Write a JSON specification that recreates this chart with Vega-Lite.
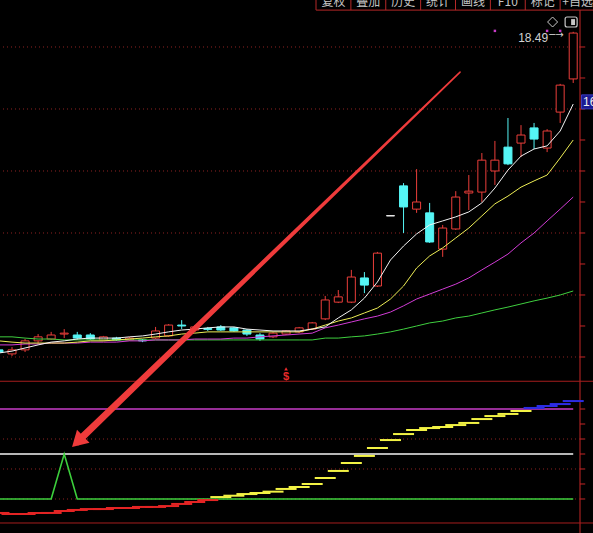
{
  "$schema": "https://vega.github.io/schema/vega-lite/v6.json",
  "width": 580,
  "height": 533,
  "autosize": {"type": "none"},
  "padding": {"left": 0, "top": 0, "right": 13, "bottom": 0},
  "background": "#000000",
  "config": {"view": {"stroke": null}, "text": {"font": "Liberation Sans"}, "scale": {"continuousPadding": 0}},
  "datasets": {
    "k": [
      {"i": -1, "o": 8.23, "h": 8.26, "l": 8.13, "c": 8.16, "m5": 8.13, "m10": 8.52, "m20": 8.39, "m60": 8.65},
      {"i": 0, "o": 8.10, "h": 8.32, "l": 8.03, "c": 8.23, "m5": 8.19, "m10": 8.48, "m20": 8.39, "m60": 8.65},
      {"i": 1, "o": 8.23, "h": 8.58, "l": 8.16, "c": 8.52, "m5": 8.29, "m10": 8.45, "m20": 8.42, "m60": 8.61},
      {"i": 2, "o": 8.52, "h": 8.74, "l": 8.42, "c": 8.65, "m5": 8.39, "m10": 8.45, "m20": 8.42, "m60": 8.58},
      {"i": 3, "o": 8.58, "h": 8.81, "l": 8.55, "c": 8.71, "m5": 8.48, "m10": 8.45, "m20": 8.45, "m60": 8.58},
      {"i": 4, "o": 8.74, "h": 8.90, "l": 8.61, "c": 8.77, "m5": 8.52, "m10": 8.45, "m20": 8.45, "m60": 8.55},
      {"i": 5, "o": 8.71, "h": 8.81, "l": 8.55, "c": 8.61, "m5": 8.58, "m10": 8.48, "m20": 8.45, "m60": 8.55},
      {"i": 6, "o": 8.71, "h": 8.77, "l": 8.55, "c": 8.58, "m5": 8.61, "m10": 8.52, "m20": 8.48, "m60": 8.55},
      {"i": 7, "o": 8.55, "h": 8.68, "l": 8.52, "c": 8.65, "m5": 8.61, "m10": 8.52, "m20": 8.48, "m60": 8.55},
      {"i": 8, "o": 8.61, "h": 8.65, "l": 8.52, "c": 8.55, "m5": 8.61, "m10": 8.55, "m20": 8.48, "m60": 8.55},
      {"i": 9, "o": 8.55, "h": 8.65, "l": 8.52, "c": 8.61, "m5": 8.65, "m10": 8.58, "m20": 8.52, "m60": 8.55},
      {"i": 10, "o": 8.55, "h": 8.58, "l": 8.48, "c": 8.52, "m5": 8.68, "m10": 8.61, "m20": 8.52, "m60": 8.55},
      {"i": 11, "o": 8.61, "h": 8.97, "l": 8.58, "c": 8.84, "m5": 8.74, "m10": 8.65, "m20": 8.55, "m60": 8.55},
      {"i": 12, "o": 8.68, "h": 9.06, "l": 8.65, "c": 9.03, "m5": 8.81, "m10": 8.68, "m20": 8.55, "m60": 8.55},
      {"i": 13, "o": 9.03, "h": 9.19, "l": 8.90, "c": 9.00, "m5": 8.87, "m10": 8.74, "m20": 8.55, "m60": 8.55},
      {"i": 14, "o": 8.87, "h": 9.03, "l": 8.81, "c": 8.97, "m5": 8.90, "m10": 8.77, "m20": 8.58, "m60": 8.55},
      {"i": 15, "o": 8.92, "h": 8.97, "l": 8.84, "c": 8.89, "m5": 8.94, "m10": 8.81, "m20": 8.58, "m60": 8.55},
      {"i": 16, "o": 8.97, "h": 9.03, "l": 8.84, "c": 8.87, "m5": 8.97, "m10": 8.81, "m20": 8.58, "m60": 8.55},
      {"i": 17, "o": 8.94, "h": 8.97, "l": 8.81, "c": 8.84, "m5": 8.97, "m10": 8.81, "m20": 8.61, "m60": 8.55},
      {"i": 18, "o": 8.87, "h": 8.90, "l": 8.68, "c": 8.74, "m5": 8.90, "m10": 8.81, "m20": 8.61, "m60": 8.55},
      {"i": 19, "o": 8.71, "h": 8.77, "l": 8.52, "c": 8.58, "m5": 8.87, "m10": 8.81, "m20": 8.65, "m60": 8.55},
      {"i": 20, "o": 8.65, "h": 8.81, "l": 8.61, "c": 8.77, "m5": 8.84, "m10": 8.81, "m20": 8.68, "m60": 8.55},
      {"i": 21, "o": 8.74, "h": 8.87, "l": 8.71, "c": 8.84, "m5": 8.84, "m10": 8.81, "m20": 8.71, "m60": 8.55},
      {"i": 22, "o": 8.81, "h": 8.97, "l": 8.77, "c": 8.94, "m5": 8.84, "m10": 8.81, "m20": 8.74, "m60": 8.55},
      {"i": 23, "o": 8.90, "h": 9.13, "l": 8.87, "c": 9.10, "m5": 8.90, "m10": 8.90, "m20": 8.77, "m60": 8.55},
      {"i": 24, "o": 9.23, "h": 9.97, "l": 9.19, "c": 9.84, "m5": 8.97, "m10": 9.03, "m20": 8.94, "m60": 8.61},
      {"i": 25, "o": 9.77, "h": 10.16, "l": 9.74, "c": 9.94, "m5": 9.26, "m10": 9.16, "m20": 9.03, "m60": 8.61},
      {"i": 26, "o": 9.77, "h": 10.81, "l": 9.74, "c": 10.58, "m5": 9.52, "m10": 9.26, "m20": 9.13, "m60": 8.65},
      {"i": 27, "o": 10.55, "h": 10.74, "l": 10.06, "c": 10.32, "m5": 9.90, "m10": 9.42, "m20": 9.23, "m60": 8.68},
      {"i": 28, "o": 10.29, "h": 11.39, "l": 10.26, "c": 11.35, "m5": 10.42, "m10": 9.58, "m20": 9.32, "m60": 8.74},
      {"i": 29, "o": 12.55, "h": 12.56, "l": 12.55, "c": 12.56, "m5": 11.13, "m10": 9.87, "m20": 9.45, "m60": 8.81},
      {"i": 30, "o": 13.52, "h": 13.61, "l": 12.00, "c": 12.84, "m5": 11.58, "m10": 10.29, "m20": 9.65, "m60": 8.90},
      {"i": 31, "o": 12.77, "h": 14.06, "l": 12.65, "c": 13.00, "m5": 11.97, "m10": 10.87, "m20": 9.87, "m60": 9.00},
      {"i": 32, "o": 12.65, "h": 12.97, "l": 11.68, "c": 11.71, "m5": 12.26, "m10": 11.26, "m20": 10.03, "m60": 9.10},
      {"i": 33, "o": 11.48, "h": 12.26, "l": 11.23, "c": 12.16, "m5": 12.39, "m10": 11.52, "m20": 10.19, "m60": 9.16},
      {"i": 34, "o": 12.13, "h": 13.35, "l": 12.10, "c": 13.16, "m5": 12.52, "m10": 11.84, "m20": 10.35, "m60": 9.26},
      {"i": 35, "o": 13.29, "h": 13.87, "l": 12.74, "c": 13.35, "m5": 12.68, "m10": 12.16, "m20": 10.55, "m60": 9.32},
      {"i": 36, "o": 13.32, "h": 14.58, "l": 13.00, "c": 14.35, "m5": 12.97, "m10": 12.55, "m20": 10.81, "m60": 9.42},
      {"i": 37, "o": 14.00, "h": 14.97, "l": 13.55, "c": 14.35, "m5": 13.45, "m10": 12.94, "m20": 11.06, "m60": 9.52},
      {"i": 38, "o": 14.77, "h": 15.71, "l": 14.19, "c": 14.23, "m5": 14.03, "m10": 13.19, "m20": 11.32, "m60": 9.61},
      {"i": 39, "o": 14.90, "h": 15.48, "l": 14.45, "c": 15.16, "m5": 14.48, "m10": 13.48, "m20": 11.68, "m60": 9.71},
      {"i": 40, "o": 15.39, "h": 15.55, "l": 14.71, "c": 15.03, "m5": 14.71, "m10": 13.68, "m20": 12.00, "m60": 9.81},
      {"i": 41, "o": 14.74, "h": 15.35, "l": 14.61, "c": 15.29, "m5": 14.81, "m10": 13.87, "m20": 12.39, "m60": 9.90},
      {"i": 42, "o": 15.90, "h": 16.81, "l": 15.55, "c": 16.77, "m5": 15.29, "m10": 14.42, "m20": 12.77, "m60": 10.00},
      {"i": 43, "o": 16.97, "h": 18.49, "l": 16.84, "c": 18.45, "m5": 16.16, "m10": 15.00, "m20": 13.16, "m60": 10.13}
    ],
    "ind": [
      {"i": -1, "g": 0, "s": -9.3}, {"i": 0, "g": 0, "s": -10}, {"i": 1, "g": 0, "s": -10},
      {"i": 2, "g": 0, "s": -9.3}, {"i": 3, "g": 0, "s": -9.3}, {"i": 4, "g": 30, "s": -8},
      {"i": 5, "g": 0, "s": -7.3}, {"i": 6, "g": 0, "s": -6.7}, {"i": 7, "g": 0, "s": -6.7},
      {"i": 8, "g": 0, "s": -6}, {"i": 9, "g": 0, "s": -6}, {"i": 10, "g": 0, "s": -5.3},
      {"i": 11, "g": 0, "s": -5.3}, {"i": 12, "g": 0, "s": -4.7}, {"i": 13, "g": 0, "s": -3.3},
      {"i": 14, "g": 0, "s": -2}, {"i": 15, "g": 0, "s": -0.7}, {"i": 16, "g": 0, "s": 1.3},
      {"i": 17, "g": 0, "s": 2.2}, {"i": 18, "g": 0, "s": 3.3}, {"i": 19, "g": 0, "s": 4},
      {"i": 20, "g": 0, "s": 4.9}, {"i": 21, "g": 0, "s": 6.7}, {"i": 22, "g": 0, "s": 8},
      {"i": 23, "g": 0, "s": 10}, {"i": 24, "g": 0, "s": 14}, {"i": 25, "g": 0, "s": 18.7},
      {"i": 26, "g": 0, "s": 24}, {"i": 27, "g": 0, "s": 28.7}, {"i": 28, "g": 0, "s": 34},
      {"i": 29, "g": 0, "s": 39.3}, {"i": 30, "g": 0, "s": 43.3}, {"i": 31, "g": 0, "s": 46},
      {"i": 32, "g": 0, "s": 47.3}, {"i": 33, "g": 0, "s": 48}, {"i": 34, "g": 0, "s": 49.3},
      {"i": 35, "g": 0, "s": 50.7}, {"i": 36, "g": 0, "s": 53.3}, {"i": 37, "g": 0, "s": 55.3},
      {"i": 38, "g": 0, "s": 56.7}, {"i": 39, "g": 0, "s": 58.7}, {"i": 40, "g": 0, "s": 60.7},
      {"i": 41, "g": 0, "s": 62}, {"i": 42, "g": 0, "s": 63.3}, {"i": 43, "g": 0, "s": 65.3}
    ],
    "sig": [{"i": 37}, {"i": 41}, {"i": 42}],
    "buy": [{"i": 21}],
    "quote": [{"price": 16.23}],
    "arrow": [{"t": 0, "i": 34.33, "p": 17.19}, {"t": 1, "i": 5.03, "p": 5.27}],
    "menu": [{"name": "复权"}, {"name": "叠加"}, {"name": "历史"}, {"name": "统计"}, {"name": "画线"}, {"name": "F10"}, {"name": "标记"}, {"name": "+自选"}],
    "priceTicks": [{"v": 8}, {"v": 9}, {"v": 10}, {"v": 11}, {"v": 12}, {"v": 13}, {"v": 14}, {"v": 15}, {"v": 16}, {"v": 17}, {"v": 18}],
    "indTicks": [{"v": 0}, {"v": 10}, {"v": 20}, {"v": 30}, {"v": 40}, {"v": 50}, {"v": 60}]
  },
  "resolve": {"scale": {"x": "independent", "y": "independent", "color": "independent", "size": "independent"}},
  "layer": [
    {
      "layer": [
        {
          "data": {"values": [{"g": 8}, {"g": 10}, {"g": 12}, {"g": 14}, {"g": 16}, {"g": 18}]},
          "mark": {"type": "rule", "color": "#8e2222", "strokeDash": [1, 3], "strokeWidth": 1},
          "encoding": {
            "y": {"field": "g", "type": "quantitative", "scale": {"domain": [7.2258, 19.1935], "range": [381, 10], "nice": false, "zero": false, "padding": 0}, "axis": null}
          }
        },
        {
          "data": {"name": "k"},
          "mark": {"type": "rule", "strokeWidth": 1},
          "encoding": {
            "x": {"field": "i", "type": "quantitative", "scale": {"domain": [-0.92, 43.52], "nice": false, "zero": false, "padding": 0}, "axis": null},
            "y": {"field": "l", "type": "quantitative", "scale": {"domain": [7.2258, 19.1935], "range": [381, 10], "nice": false, "zero": false, "padding": 0}, "axis": null},
            "y2": {"field": "h"},
            "color": {"condition": [{"test": "datum.c - datum.o > 0.015", "value": "#ea3e3a"}, {"test": "datum.o - datum.c > 0.015", "value": "#55f5f5"}], "value": "#eeeeee"}
          }
        },
        {
          "data": {"name": "k"},
          "mark": {"type": "bar", "size": 8, "strokeWidth": 1},
          "encoding": {
            "x": {"field": "i", "type": "quantitative", "scale": {"domain": [-0.92, 43.52], "nice": false, "zero": false, "padding": 0}, "axis": null},
            "y": {"field": "o", "type": "quantitative", "scale": {"domain": [7.2258, 19.1935], "range": [381, 10], "nice": false, "zero": false, "padding": 0}, "axis": null},
            "y2": {"field": "c"},
            "fill": {"condition": [{"test": "datum.c - datum.o > 0.015", "value": "#000000"}, {"test": "datum.o - datum.c > 0.015", "value": "#55f5f5"}], "value": "#eeeeee"},
            "stroke": {"condition": [{"test": "datum.c - datum.o > 0.015", "value": "#ea3e3a"}, {"test": "datum.o - datum.c > 0.015", "value": "#55f5f5"}], "value": "#eeeeee"}
          }
        },
        {
          "data": {"name": "k"},
          "mark": {"type": "line", "color": "#3fcf3f", "strokeWidth": 1},
          "encoding": {
            "x": {"field": "i", "type": "quantitative", "scale": {"domain": [-0.92, 43.52], "nice": false, "zero": false, "padding": 0}, "axis": null},
            "y": {"field": "m60", "type": "quantitative", "scale": {"domain": [7.2258, 19.1935], "range": [381, 10], "nice": false, "zero": false, "padding": 0}, "axis": null}
          }
        },
        {
          "data": {"name": "k"},
          "mark": {"type": "line", "color": "#d23cd6", "strokeWidth": 1},
          "encoding": {
            "x": {"field": "i", "type": "quantitative", "scale": {"domain": [-0.92, 43.52], "nice": false, "zero": false, "padding": 0}, "axis": null},
            "y": {"field": "m20", "type": "quantitative", "scale": {"domain": [7.2258, 19.1935], "range": [381, 10], "nice": false, "zero": false, "padding": 0}, "axis": null}
          }
        },
        {
          "data": {"name": "k"},
          "mark": {"type": "line", "color": "#eded55", "strokeWidth": 1},
          "encoding": {
            "x": {"field": "i", "type": "quantitative", "scale": {"domain": [-0.92, 43.52], "nice": false, "zero": false, "padding": 0}, "axis": null},
            "y": {"field": "m10", "type": "quantitative", "scale": {"domain": [7.2258, 19.1935], "range": [381, 10], "nice": false, "zero": false, "padding": 0}, "axis": null}
          }
        },
        {
          "data": {"name": "k"},
          "mark": {"type": "line", "color": "#f4f4f4", "strokeWidth": 1},
          "encoding": {
            "x": {"field": "i", "type": "quantitative", "scale": {"domain": [-0.92, 43.52], "nice": false, "zero": false, "padding": 0}, "axis": null},
            "y": {"field": "m5", "type": "quantitative", "scale": {"domain": [7.2258, 19.1935], "range": [381, 10], "nice": false, "zero": false, "padding": 0}, "axis": null}
          }
        },
        {
          "data": {"name": "sig"},
          "mark": {"type": "square", "size": 6, "color": "#c83cc8", "filled": true, "opacity": 1},
          "encoding": {
            "x": {"field": "i", "type": "quantitative", "scale": {"domain": [-0.92, 43.52], "nice": false, "zero": false, "padding": 0}, "axis": null},
            "y": {"datum": 18.52, "type": "quantitative", "scale": {"domain": [7.2258, 19.1935], "range": [381, 10], "nice": false, "zero": false, "padding": 0}, "axis": null}
          }
        },
        {
          "data": {"name": "k"},
          "transform": [{"filter": "datum.i == 43"}],
          "layer": [
            {
              "mark": {"type": "text", "align": "right", "baseline": "middle", "dx": -25, "dy": 6, "fontSize": 12, "color": "#d2d2d2"},
              "encoding": {"text": {"field": "h", "type": "quantitative", "format": ".2f"}}
            },
            {
              "mark": {"type": "text", "align": "left", "baseline": "middle", "dx": -24, "dy": 3, "fontSize": 10, "color": "#d2d2d2", "font": "DejaVu Sans", "text": "─→"}
            }
          ],
          "encoding": {
            "x": {"field": "i", "type": "quantitative", "scale": {"domain": [-0.92, 43.52], "nice": false, "zero": false, "padding": 0}, "axis": null},
            "y": {"field": "h", "type": "quantitative", "scale": {"domain": [7.2258, 19.1935], "range": [381, 10], "nice": false, "zero": false, "padding": 0}, "axis": null}
          }
        },
        {
          "data": {"values": [{}]},
          "mark": {"type": "point", "shape": "diamond", "size": 100, "filled": false, "color": "#c8c8c8", "strokeWidth": 1, "opacity": 1},
          "encoding": {
            "x": {"datum": 41.42, "type": "quantitative", "scale": {"domain": [-0.92, 43.52], "nice": false, "zero": false, "padding": 0}, "axis": null},
            "y": {"datum": 18.806, "type": "quantitative", "scale": {"domain": [7.2258, 19.1935], "range": [381, 10], "nice": false, "zero": false, "padding": 0}, "axis": null}
          }
        },
        {
          "data": {"values": [{}]},
          "mark": {"type": "rect", "fill": null, "stroke": "#c8c8c8", "strokeWidth": 1.2, "cornerRadius": 2},
          "encoding": {
            "x": {"datum": 42.38, "type": "quantitative", "scale": {"domain": [-0.92, 43.52], "nice": false, "zero": false, "padding": 0}, "axis": null},
            "x2": {"datum": 43.30},
            "y": {"datum": 18.968, "type": "quantitative", "scale": {"domain": [7.2258, 19.1935], "range": [381, 10], "nice": false, "zero": false, "padding": 0}, "axis": null},
            "y2": {"datum": 18.645}
          }
        },
        {
          "data": {"values": [{}]},
          "mark": {"type": "rect", "fill": "#c8c8c8"},
          "encoding": {
            "x": {"datum": 42.84, "type": "quantitative", "scale": {"domain": [-0.92, 43.52], "nice": false, "zero": false, "padding": 0}, "axis": null},
            "x2": {"datum": 43.14},
            "y": {"datum": 18.90, "type": "quantitative", "scale": {"domain": [7.2258, 19.1935], "range": [381, 10], "nice": false, "zero": false, "padding": 0}, "axis": null},
            "y2": {"datum": 18.71}
          }
        },
        {
          "data": {"name": "buy"},
          "layer": [
            {
              "mark": {"type": "text", "text": "$", "align": "center", "baseline": "middle", "fontSize": 11, "fontWeight": "bold", "color": "#e82a2a"},
              "encoding": {"y": {"datum": 7.355, "type": "quantitative", "scale": {"domain": [7.2258, 19.1935], "range": [381, 10], "nice": false, "zero": false, "padding": 0}, "axis": null}}
            },
            {
              "mark": {"type": "point", "shape": "triangle-up", "size": 14, "filled": true, "color": "#e82a2a", "opacity": 1},
              "encoding": {"y": {"datum": 7.62, "type": "quantitative", "scale": {"domain": [7.2258, 19.1935], "range": [381, 10], "nice": false, "zero": false, "padding": 0}, "axis": null}}
            }
          ],
          "encoding": {
            "x": {"field": "i", "type": "quantitative", "scale": {"domain": [-0.92, 43.52], "nice": false, "zero": false, "padding": 0}, "axis": null}
          }
        },
        {
          "data": {"values": [{}]},
          "mark": {"type": "rule", "color": "#c42626", "strokeWidth": 1},
          "encoding": {
            "x": {"datum": 43.52, "type": "quantitative", "scale": {"domain": [-0.92, 43.52], "nice": false, "zero": false, "padding": 0}, "axis": null},
            "y": {"datum": 19.19, "type": "quantitative", "scale": {"domain": [7.2258, 19.1935], "range": [381, 10], "nice": false, "zero": false, "padding": 0}, "axis": null},
            "y2": {"datum": 2.3}
          }
        },
        {
          "data": {"name": "priceTicks"},
          "mark": {"type": "rule", "color": "#c42626", "strokeWidth": 1},
          "encoding": {
            "x": {"datum": 43.52, "type": "quantitative", "scale": {"domain": [-0.92, 43.52], "nice": false, "zero": false, "padding": 0}, "axis": null},
            "x2": {"datum": 43.92},
            "y": {"field": "v", "type": "quantitative", "scale": {"domain": [7.2258, 19.1935], "range": [381, 10], "nice": false, "zero": false, "padding": 0}, "axis": null}
          }
        },
        {
          "data": {"name": "quote"},
          "layer": [
            {
              "mark": {"type": "rect", "fill": "#1b1b92", "stroke": "#3c3cc0", "strokeWidth": 1, "xOffset": 1.5, "yOffset": 7, "y2Offset": -7},
              "encoding": {"x2": {"datum": 45.2}, "y2": {"field": "price"}}
            },
            {
              "mark": {"type": "text", "align": "left", "baseline": "middle", "dx": 3, "fontSize": 12, "color": "#f0f0f0"},
              "encoding": {"text": {"field": "price", "type": "quantitative", "format": ".2f"}}
            }
          ],
          "encoding": {
            "x": {"datum": 43.52, "type": "quantitative", "scale": {"domain": [-0.92, 43.52], "nice": false, "zero": false, "padding": 0}, "axis": null},
            "y": {"field": "price", "type": "quantitative", "scale": {"domain": [7.2258, 19.1935], "range": [381, 10], "nice": false, "zero": false, "padding": 0}, "axis": null}
          }
        },
        {
          "data": {"values": [{}]},
          "mark": {"type": "rule", "color": "#b42828", "strokeWidth": 1},
          "encoding": {
            "x": {"datum": 23.3, "type": "quantitative", "scale": {"domain": [-0.92, 43.52], "nice": false, "zero": false, "padding": 0}, "axis": null},
            "x2": {"datum": 45.5},
            "y": {"datum": 19.19, "type": "quantitative", "scale": {"domain": [7.2258, 19.1935], "range": [381, 10], "nice": false, "zero": false, "padding": 0}, "axis": null}
          }
        }
      ]
    },
    {
      "layer": [
        {
          "data": {"values": [{"g": 0}, {"g": 20}, {"g": 40}]},
          "mark": {"type": "rule", "color": "#8e2222", "strokeDash": [1, 3], "strokeWidth": 1},
          "encoding": {
            "y": {"field": "g", "type": "quantitative", "scale": {"domain": [-22.667, 78.667], "range": [533, 381], "nice": false, "zero": false, "padding": 0}, "axis": null}
          }
        },
        {
          "data": {"values": [{}]},
          "mark": {"type": "rule", "color": "#c83cc8", "strokeWidth": 1.6},
          "encoding": {
            "x": {"datum": -1, "type": "quantitative", "scale": {"domain": [-0.92, 43.52], "nice": false, "zero": false, "padding": 0}, "axis": null},
            "x2": {"datum": 43},
            "y": {"datum": 60, "type": "quantitative", "scale": {"domain": [-22.667, 78.667], "range": [533, 381], "nice": false, "zero": false, "padding": 0}, "axis": null}
          }
        },
        {
          "data": {"values": [{}]},
          "mark": {"type": "rule", "color": "#f4f4f4", "strokeWidth": 1.6},
          "encoding": {
            "x": {"datum": -1, "type": "quantitative", "scale": {"domain": [-0.92, 43.52], "nice": false, "zero": false, "padding": 0}, "axis": null},
            "x2": {"datum": 43},
            "y": {"datum": 30, "type": "quantitative", "scale": {"domain": [-22.667, 78.667], "range": [533, 381], "nice": false, "zero": false, "padding": 0}, "axis": null}
          }
        },
        {
          "data": {"name": "ind"},
          "mark": {"type": "line", "color": "#3ccf3c", "strokeWidth": 1.6},
          "encoding": {
            "x": {"field": "i", "type": "quantitative", "scale": {"domain": [-0.92, 43.52], "nice": false, "zero": false, "padding": 0}, "axis": null},
            "y": {"field": "g", "type": "quantitative", "scale": {"domain": [-22.667, 78.667], "range": [533, 381], "nice": false, "zero": false, "padding": 0}, "axis": null}
          }
        },
        {
          "data": {"name": "ind"},
          "mark": {"type": "tick", "orient": "horizontal", "size": 21, "thickness": 2, "opacity": 1},
          "encoding": {
            "x": {"field": "i", "type": "quantitative", "scale": {"domain": [-0.92, 43.52], "nice": false, "zero": false, "padding": 0}, "axis": null},
            "y": {"field": "s", "type": "quantitative", "scale": {"domain": [-22.667, 78.667], "range": [533, 381], "nice": false, "zero": false, "padding": 0}, "axis": null},
            "color": {"field": "s", "type": "quantitative", "scale": {"type": "threshold", "domain": [0, 60], "range": ["#e42424", "#f2f244", "#2c2ce4"]}, "legend": null}
          }
        },
        {
          "data": {"values": [{"d": 78.5}, {"d": -16}]},
          "mark": {"type": "rule", "color": "#a51e1e", "strokeWidth": 1},
          "encoding": {
            "x": {"datum": -1, "type": "quantitative", "scale": {"domain": [-0.92, 43.52], "nice": false, "zero": false, "padding": 0}, "axis": null},
            "x2": {"datum": 45.5},
            "y": {"field": "d", "type": "quantitative", "scale": {"domain": [-22.667, 78.667], "range": [533, 381], "nice": false, "zero": false, "padding": 0}, "axis": null}
          }
        },
        {
          "data": {"name": "indTicks"},
          "mark": {"type": "rule", "color": "#c42626", "strokeWidth": 1},
          "encoding": {
            "x": {"datum": 43.52, "type": "quantitative", "scale": {"domain": [-0.92, 43.52], "nice": false, "zero": false, "padding": 0}, "axis": null},
            "x2": {"datum": 43.92},
            "y": {"field": "v", "type": "quantitative", "scale": {"domain": [-22.667, 78.667], "range": [533, 381], "nice": false, "zero": false, "padding": 0}, "axis": null}
          }
        }
      ]
    },
    {
      "data": {"name": "menu"},
      "layer": [
        {
          "mark": {"type": "text", "font": "Noto Sans CJK SC", "fontSize": 12, "color": "#c4c4c4", "baseline": "alphabetic", "align": "center"},
          "encoding": {
            "x": {"field": "name", "type": "nominal", "sort": null, "axis": null,
                  "scale": {"type": "band", "domain": ["复权", "叠加", "历史", "统计", "画线", "F10", "标记", "+自选"], "range": [316, 595], "paddingInner": 0, "paddingOuter": 0}},
            "y": {"datum": 19.32, "type": "quantitative", "scale": {"domain": [7.2258, 19.1935], "range": [381, 10], "nice": false, "zero": false, "padding": 0}, "axis": null},
            "text": {"field": "name"}
          }
        },
        {
          "mark": {"type": "rule", "color": "#b42828", "strokeWidth": 1},
          "encoding": {
            "x": {"field": "name", "type": "nominal", "sort": null, "axis": null, "bandPosition": 0,
                  "scale": {"type": "band", "domain": ["复权", "叠加", "历史", "统计", "画线", "F10", "标记", "+自选"], "range": [316, 595], "paddingInner": 0, "paddingOuter": 0}},
            "y": {"datum": 19.7, "type": "quantitative", "scale": {"domain": [7.2258, 19.1935], "range": [381, 10], "nice": false, "zero": false, "padding": 0}, "axis": null},
            "y2": {"datum": 19.19}
          }
        }
      ]
    },
    {
      "layer": [
        {
          "data": {"name": "arrow"},
          "mark": {"type": "trail", "color": "#ef3b3b", "opacity": 1},
          "encoding": {
            "x": {"field": "i", "type": "quantitative", "scale": {"domain": [-0.92, 43.52], "nice": false, "zero": false, "padding": 0}, "axis": null},
            "y": {"field": "p", "type": "quantitative", "scale": {"domain": [7.2258, 19.1935], "range": [381, 10], "nice": false, "zero": false, "padding": 0}, "axis": null},
            "order": {"field": "t", "type": "quantitative"},
            "size": {"field": "t", "type": "quantitative", "scale": {"domain": [0, 1], "range": [1.5, 7]}, "legend": null}
          }
        },
        {
          "data": {"values": [{}]},
          "mark": {"type": "point", "shape": "triangle-up", "size": 324, "angle": 226, "filled": true, "color": "#ef3b3b", "opacity": 1},
          "encoding": {
            "x": {"datum": 5.03, "type": "quantitative", "scale": {"domain": [-0.92, 43.52], "nice": false, "zero": false, "padding": 0}, "axis": null},
            "y": {"datum": 5.27, "type": "quantitative", "scale": {"domain": [7.2258, 19.1935], "range": [381, 10], "nice": false, "zero": false, "padding": 0}, "axis": null}
          }
        }
      ]
    }
  ]
}
